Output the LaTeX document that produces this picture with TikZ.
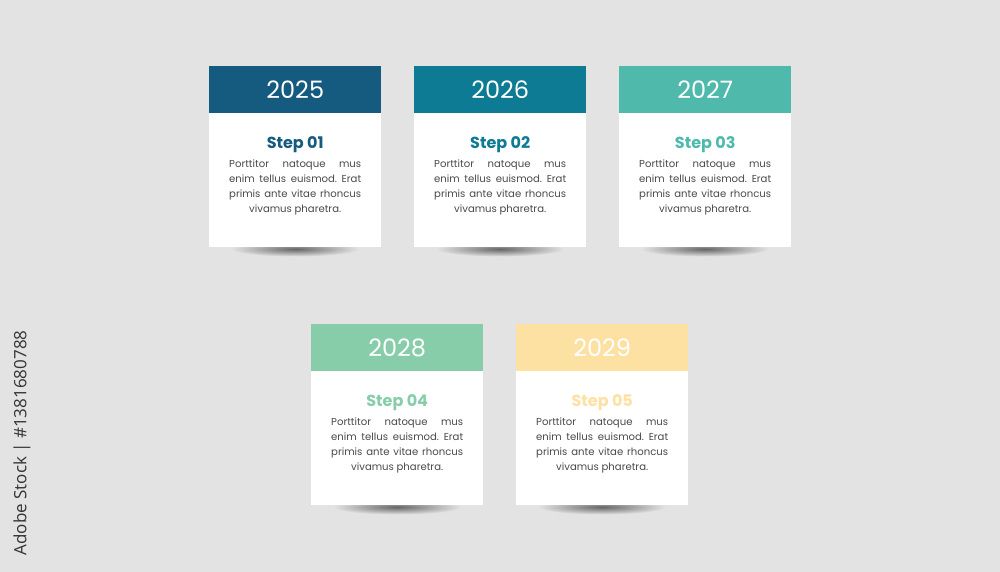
\documentclass[tikz,border=0pt]{standalone}
\usepackage{fontspec}
\setmainfont{Poppins}
\newfontfamily\wmfont{Open Sans}
\usetikzlibrary{positioning}
\definecolor{bgc}{HTML}{E3E3E3}
\definecolor{cA}{HTML}{145B7F}
\definecolor{cB}{HTML}{0E7B94}
\definecolor{cC}{HTML}{4FB9AC}
\definecolor{cD}{HTML}{88CDA9}
\definecolor{cE}{HTML}{FDE1A3}
\definecolor{txt}{HTML}{4A4A4A}
\hbadness=10000
\frenchspacing
\tikzset{
  hdr/.style={fill=#1, draw=none, minimum width=172pt, minimum height=47pt, inner sep=0pt, anchor=north west,
    text=white, font=\fontsize{24}{26}\selectfont},
  bodybox/.style={fill=white, draw=none, minimum width=172pt, minimum height=134pt, inner sep=0pt, anchor=north west},
  steplbl/.style={text=#1, font=\fontsize{16}{18}\bfseries\selectfont, inner sep=0pt},
  para/.style={text=txt, font=\fontsize{10.1}{14.9}\selectfont, text width=132pt, inner sep=0pt, anchor=north, align=justify},
}
\newcommand{\cardtext}{\parfillskip=0pt\parindent=0pt
Porttitor natoque mus\par
enim tellus euismod. Erat\par
primis ante vitae rhoncus\par
\hspace*{\fill}vivamus pharetra.\hspace*{\fill}\par}
\newcommand{\mycard}[5]{% name, x, y, color, year/step
  \shade[inner color=black!60, outer color=bgc] (#2+86,#3+183) ellipse [x radius=64, y radius=7.5];
  \node[hdr=#4] (#1h) at (#2,#3) {#5};
  \node[bodybox] (#1b) at (#2,#3+47) {};
}
\begin{document}
\begin{tikzpicture}[x=1pt,y=-1pt]
\fill[bgc] (0,0) rectangle (1000,572);
\useasboundingbox (0,0) rectangle (1000,572);
\mycard{a}{209}{66}{cA}{2025}
\mycard{b}{414}{66}{cB}{2026}
\mycard{c}{619}{66}{cC}{2027}
\mycard{d}{311}{324}{cD}{2028}
\mycard{e}{516}{324}{cE}{2029}
\foreach \n/\c/\s in {a/cA/01,b/cB/02,c/cC/03,d/cD/04,e/cE/05}{
  \node[steplbl=\c] (\n s) at ([yshift=-31.5pt]\n b.north) {Step \s};
  \node[para] (\n p) at ([yshift=-46.5pt]\n b.north) {\cardtext};
}
\node[rotate=90, text=black!80, font=\wmfont\fontsize{17}{19}\selectfont, inner sep=0pt] (wm) at (22,443) {Adobe Stock | \#1381680788};
\end{tikzpicture}
\end{document}
